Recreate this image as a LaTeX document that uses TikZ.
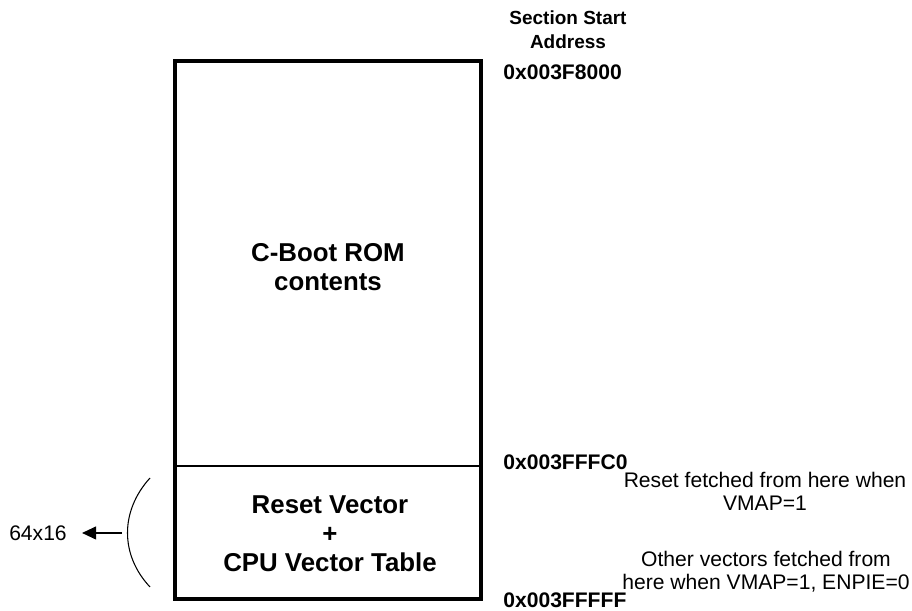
\documentclass[tikz,border=0pt]{standalone}
\usepackage{fontspec}
\setmainfont{Liberation Sans}
\usepackage{xcolor}
\usetikzlibrary{arrows.meta,positioning}
\definecolor{ink}{HTML}{000000}
\tikzset{
  memframe/.style={draw=ink,line width=2.2pt},
  memsplit/.style={draw=ink,line width=1.1pt},
  regionlabel/.style={align=center,font=\fontsize{14.7}{16.6}\selectfont\bfseries,
                      inner sep=0pt},
  addrlabel/.style={anchor=west,font=\fontsize{12}{13}\selectfont\bfseries,
                    inner sep=0pt},
  headlabel/.style={align=center,font=\fontsize{10.8}{13.6}\selectfont\bfseries,
                    inner sep=0pt},
  notelabel/.style={align=center,font=\fontsize{12}{13}\selectfont,inner sep=0pt},
  sizearr/.style={-{Triangle[length=2.8mm,width=2.6mm]},line width=0.6pt,draw=ink},
  bracket/.style={line width=0.6pt,draw=ink}
}
\begin{document}
\begin{tikzpicture}[x=1cm,y=1cm]
    \path[use as bounding box] (0,0) rectangle (18.24,12.22);
    % memory block
    \coordinate (topleft) at (3.50,11.00);
    \coordinate (botright) at (9.62,0.24);
    \coordinate (splitl) at (3.50,2.90);
    \coordinate (splitr) at (9.62,2.90);
    \draw[memframe] (topleft) rectangle (botright);
    \draw[memsplit] (splitl) -- (splitr);
    \node[regionlabel] (rom) at (6.56,6.88) {C-Boot ROM\\contents};
    \node[regionlabel] (vectors) at (6.60,1.54)
      {Reset Vector\\+\\CPU Vector Table};

    % addresses
    \node[headlabel] (head) at (11.36,11.62) {Section Start\\Address};
    \node[addrlabel] (start) at (10.06,10.78) {0x003F8000};
    \node[addrlabel] (vecstart) at (10.06,2.98) {0x003FFFC0};
    \node[addrlabel] (vecend) at (10.06,0.22) {0x003FFFFF};
    \node[notelabel] (resetnote) at (15.30,2.40)
      {Reset fetched from here when\\VMAP=1};
    \node[notelabel] (othernote) at (15.32,0.78)
      {Other vectors fetched from\\here when VMAP=1, ENPIE=0};

    % size of the vector table
    \coordinate (arctop) at (3.00,2.66);
    \coordinate (arcbot) at (3.00,0.48);
    \coordinate (arcmid) at (2.54,1.56);
    \draw[bracket] (arctop) .. controls (2.40,2.00) and (2.40,1.12) .. (arcbot);
    \node[notelabel] (size) at (0.76,1.56) {64x16};
    \draw[sizearr,shorten <=0.10cm] (arcmid) -- ([xshift=0.30cm]size.east);
\end{tikzpicture}
\end{document}
